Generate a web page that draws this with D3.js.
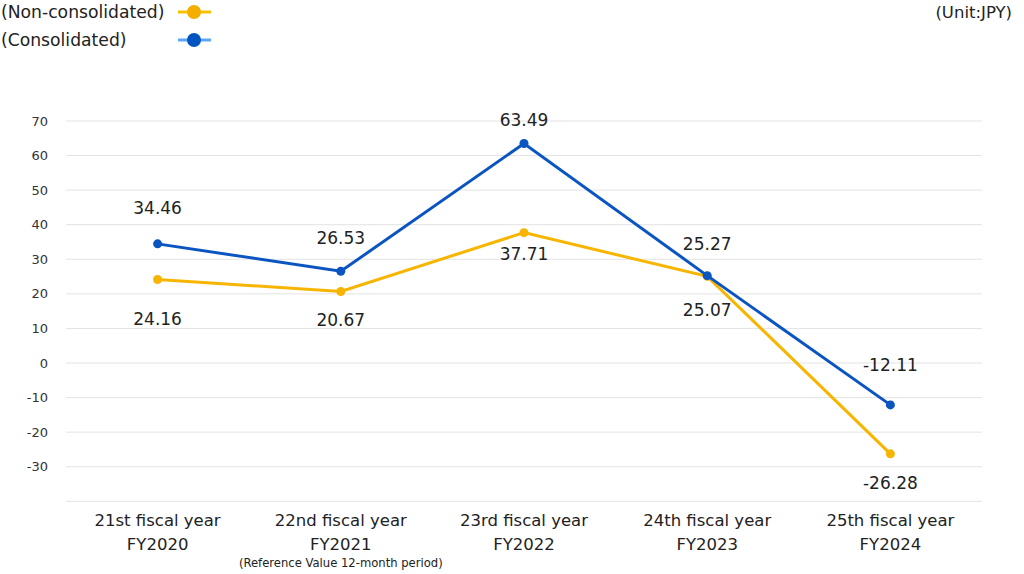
<!DOCTYPE html>
<html>
<head>
<meta charset="utf-8">
<script src="https://cdn.jsdelivr.net/npm/d3@7"></script>
<style>
  body { margin: 0; background: #fff; }
  svg { font-family: "DejaVu Sans", Verdana, sans-serif; }
</style>
</head>
<body>
<script>
var width = 1024,
    height = 574;

// data
var years = ['21st fiscal year', '22nd fiscal year', '23rd fiscal year', '24th fiscal year', '25th fiscal year'];
var fyLabels = ['FY2020', 'FY2021', 'FY2022', 'FY2023', 'FY2024'];
var nonConsolidated = [24.16, 20.67, 37.71, 25.07, -26.28];
var consolidated = [34.46, 26.53, 63.49, 25.27, -12.11];
var yTicks = [70, 60, 50, 40, 30, 20, 10, 0, -10, -20, -30];

// label offsets (px) from the point, negative = above
var nonLabelDy = [40, 29, 21, 34, 29];
var conLabelDy = [-36, -33, -23, -32, -40];

var margin = {left: 66, right: 42, top: 121, bottom: 73};

var svg = d3.select('body')
    .append('svg')
    .attr('width', width)
    .attr('height', height);

var x = d3.scaleBand()
    .domain(d3.range(years.length))
    .range([margin.left, width - margin.right]);

var y = d3.scaleLinear()
    .domain([-40, 70])
    .range([501.3, 121]);

// gridlines
svg.append('g')
    .selectAll('line')
    .data(yTicks.concat([-40]))
    .enter()
    .append('line')
    .attr('x1', margin.left)
    .attr('x2', width - margin.right)
    .attr('y1', d => y(d))
    .attr('y2', d => y(d))
    .attr('stroke', '#e3e3e3')
    .attr('stroke-width', 1);

// y tick labels
svg.append('g')
    .selectAll('text')
    .data(yTicks)
    .enter()
    .append('text')
    .attr('x', 48)
    .attr('y', d => y(d))
    .attr('dy', '0.35em')
    .attr('text-anchor', 'end')
    .attr('font-size', 13)
    .attr('fill', '#333')
    .text(d => d);

// x labels
var xl = svg.append('g')
    .selectAll('text')
    .data(years)
    .enter()
    .append('text')
    .attr('x', (d, i) => x(i) + x.bandwidth() / 2)
    .attr('y', 526)
    .attr('text-anchor', 'middle')
    .attr('font-size', 16.5)
    .attr('fill', '#222');
xl.append('tspan').text(d => d);
xl.append('tspan')
    .attr('x', (d, i) => x(i) + x.bandwidth() / 2)
    .attr('dy', 24)
    .text((d, i) => fyLabels[i]);

svg.append('text')
    .attr('x', x(1) + x.bandwidth() / 2)
    .attr('y', 567)
    .attr('text-anchor', 'middle')
    .attr('font-size', 11.6)
    .attr('fill', '#222')
    .text('(Reference Value 12-month period)');

var cx = (d, i) => x(i) + x.bandwidth() / 2;

function drawSeries(values, color, dys) {
    var line = d3.line()
        .x(cx)
        .y(d => y(d));
    svg.append('path')
        .datum(values)
        .attr('d', line)
        .attr('fill', 'none')
        .attr('stroke', color)
        .attr('stroke-width', 3);
    svg.append('g')
        .selectAll('circle')
        .data(values)
        .enter()
        .append('circle')
        .attr('cx', cx)
        .attr('cy', d => y(d))
        .attr('r', 4.5)
        .attr('fill', color);
    svg.append('g')
        .selectAll('text')
        .data(values)
        .enter()
        .append('text')
        .attr('x', cx)
        .attr('y', (d, i) => y(d) + dys[i])
        .attr('dy', '0.35em')
        .attr('text-anchor', 'middle')
        .attr('font-size', 17)
        .attr('fill', '#222')
        .text(d => d.toFixed(2));
}

drawSeries(nonConsolidated, '#f7b500', nonLabelDy);
drawSeries(consolidated, '#0a55c2', conLabelDy);

// legend
var legend = [
    {name: '(Non-consolidated)', line: '#f7c200', dot: '#f5ae00', y: 12},
    {name: '(Consolidated)', line: '#5aa8f5', dot: '#0055c0', y: 40}
];
legend.forEach(function(l) {
    svg.append('text')
        .attr('x', 1)
        .attr('y', l.y)
        .attr('dy', '0.35em')
        .attr('font-size', 17.2)
        .attr('fill', '#222')
        .text(l.name);
    svg.append('line')
        .attr('x1', 178)
        .attr('x2', 211)
        .attr('y1', l.y)
        .attr('y2', l.y)
        .attr('stroke', l.line)
        .attr('stroke-width', 3);
    svg.append('circle')
        .attr('cx', 194)
        .attr('cy', l.y)
        .attr('r', 7)
        .attr('fill', l.dot);
});

svg.append('text')
    .attr('x', 1012)
    .attr('y', 12)
    .attr('dy', '0.35em')
    .attr('text-anchor', 'end')
    .attr('font-size', 16.5)
    .attr('fill', '#222')
    .text('(Unit:JPY)');
</script>
</body>
</html>
